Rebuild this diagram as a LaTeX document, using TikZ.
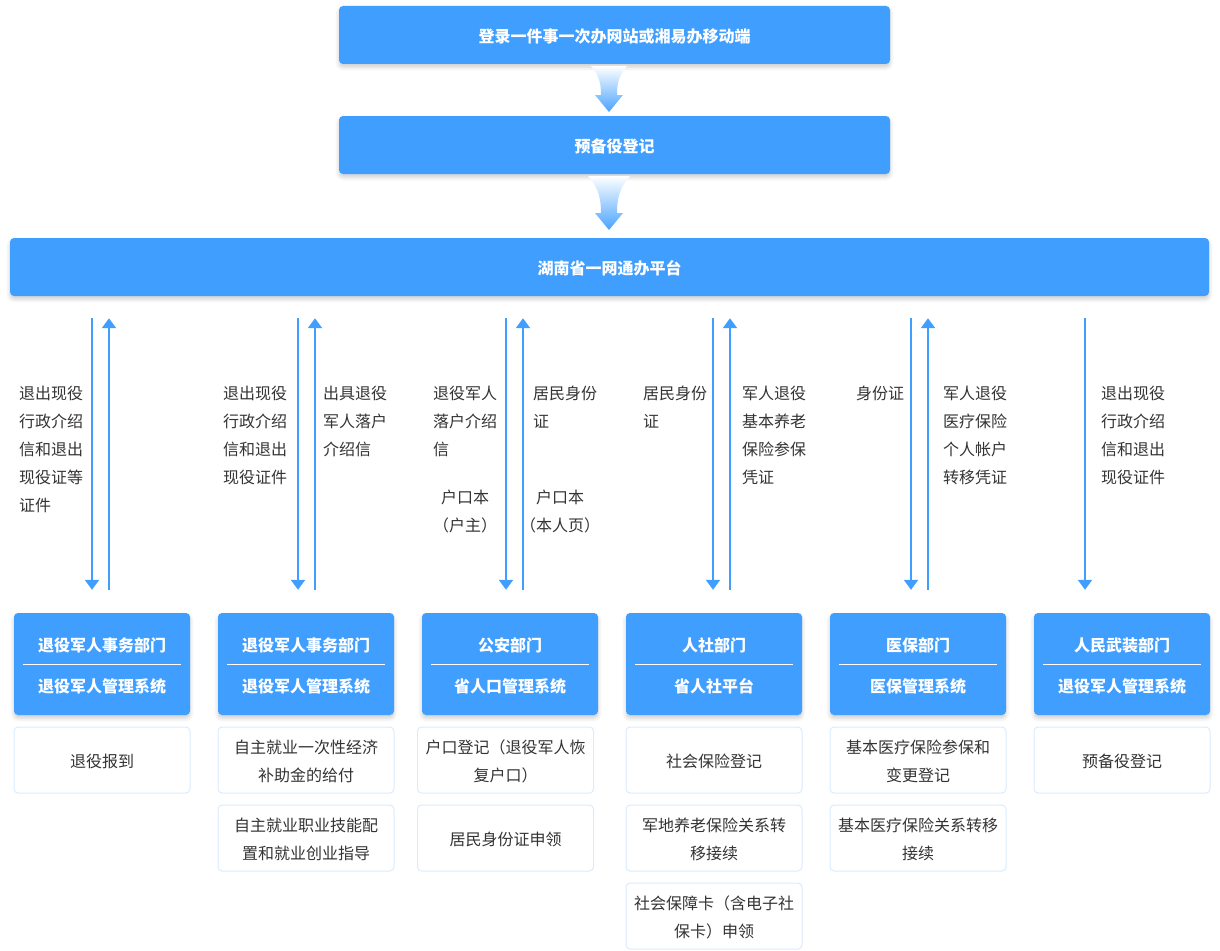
\documentclass[tikz,border=0pt]{standalone}
\usepackage{fontspec}
\setmainfont{Noto Sans CJK SC}
\usetikzlibrary{arrows.meta,shadows.blur}
\definecolor{mainblue}{HTML}{409EFF}
\definecolor{lineblue}{HTML}{D9ECFF}
\definecolor{txtgray}{HTML}{333333}
\newcommand{\up}[1]{\rule{0pt}{#1}}

\begin{document}
\begin{tikzpicture}[x=1pt,y=-1pt,
			every node/.style={
				font=\fontsize{16}{28}\selectfont,
				text=txtgray,
				inner sep=0pt,
			},
			bar/.style={
				rectangle,
				rounded corners=4pt,
				fill=mainblue,
				text=white,
				font=\fontsize{16}{41}\selectfont\bfseries,
				align=center,
				blur shadow={shadow xshift=0pt,shadow yshift=-3pt,shadow blur radius=4pt,shadow opacity=20},
			},
			dept/.style={
				bar,
				minimum width=176pt,
				minimum height=102pt,
			},
			task/.style={
				rectangle,
				rounded corners=4pt,
				draw=lineblue,
				line width=1pt,
				fill=white,
				minimum width=176pt,
				minimum height=66pt,
				align=center,
			},
			lbl/.style={
				anchor=north west,
				align=left,
			},
			flow/.style={
				draw=mainblue,
				line width=2pt,
				shorten <=22pt,
				shorten >=23pt,
			},
			>={Triangle[width=14pt,length=10pt]},
		]
		\useasboundingbox (0,0) rectangle (1220,950);

		% top of the flow
		\node[bar,minimum width=551pt,minimum height=58pt] (login) at (614.5,35) {\up{16pt}登录一件事一次办网站或湘易办移动端};
		\node[bar,minimum width=551pt,minimum height=58pt] (reserve) at (614.5,145) {\up{16pt}预备役登记};
		\node[bar,minimum width=1199pt,minimum height=58pt] (platform) at (609.5,267) {\up{16pt}湖南省一网通办平台};

		\shade[top color=white,bottom color=mainblue!95] (591,66) .. controls (600,76) and (601,86) .. (601,95) -- (595,95) -- (609,112) -- (623,95) -- (617,95) .. controls (617,86) and (618,76) .. (627,66) -- cycle;
		\shade[top color=white,bottom color=mainblue!95] (588,176) .. controls (599,188) and (601,200) .. (601,213) -- (595,213) -- (609,230) -- (623,213) -- (617,213) .. controls (617,200) and (619,188) .. (630,176) -- cycle;

		% departments
		\node[dept] (veteran1) at (102,664)  {\up{18pt}退役军人事务部门\\退役军人管理系统};
		\node[dept] (veteran2) at (306,664)  {\up{18pt}退役军人事务部门\\退役军人管理系统};
		\node[dept] (police)   at (510,664)  {\up{18pt}公安部门\\省人口管理系统};
		\node[dept] (social)   at (714,664)  {\up{18pt}人社部门\\省人社平台};
		\node[dept] (medical)  at (918,664)  {\up{18pt}医保部门\\医保管理系统};
		\node[dept] (armed)    at (1122,664) {\up{18pt}人民武装部门\\退役军人管理系统};
		\draw[white,line width=1pt] ([xshift=9pt]veteran1.west) -- ([xshift=-9pt]veteran1.east);
		\draw[white,line width=1pt] ([xshift=9pt]veteran2.west) -- ([xshift=-9pt]veteran2.east);
		\draw[white,line width=1pt] ([xshift=9pt]police.west) -- ([xshift=-9pt]police.east);
		\draw[white,line width=1pt] ([xshift=9pt]social.west) -- ([xshift=-9pt]social.east);
		\draw[white,line width=1pt] ([xshift=9pt]medical.west) -- ([xshift=-9pt]medical.east);
		\draw[white,line width=1pt] ([xshift=9pt]armed.west) -- ([xshift=-9pt]armed.east);

		% services
		\node[task] (report)    at (102,760)   {\up{16pt}退役报到};
		\node[task] (subsidy)   at (306,760)   {\up{16pt}自主就业一次性经济\\补助金的给付};
		\node[task] (guide)     at (306,838)   {\up{16pt}自主就业职业技能配\\置和就业创业指导};
		\node[task] (hukou)     at (505.5,760) {\up{16pt}户口登记（退役军人恢\\复户口）};
		\node[task] (idcard)    at (505.5,838) {\up{16pt}居民身份证申领};
		\node[task] (insreg)    at (714,760)   {\up{16pt}社会保险登记};
		\node[task] (pension)   at (714,838)   {\up{16pt}军地养老保险关系转\\移接续};
		\node[task] (sscard)    at (714,916)   {\up{16pt}社会保障卡（含电子社\\保卡）申领};
		\node[task] (medreg)    at (918,760)   {\up{16pt}基本医疗保险参保和\\变更登记};
		\node[task] (medmove)   at (918,838)   {\up{16pt}基本医疗保险关系转移\\接续};
		\node[task] (reservist) at (1122,760)  {\up{16pt}预备役登记};

		% exchanges with the platform
		\draw[flow,->] (platform.south -| 92,0)   -- (veteran1.north -| 92,0);
		\draw[flow,<-] (platform.south -| 109,0)  -- (veteran1.north -| 109,0);
		\draw[flow,->] (platform.south -| 298,0)  -- (veteran2.north -| 298,0);
		\draw[flow,<-] (platform.south -| 315,0)  -- (veteran2.north -| 315,0);
		\draw[flow,->] (platform.south -| 506,0)  -- (police.north -| 506,0);
		\draw[flow,<-] (platform.south -| 523,0)  -- (police.north -| 523,0);
		\draw[flow,->] (platform.south -| 713,0)  -- (social.north -| 713,0);
		\draw[flow,<-] (platform.south -| 730,0)  -- (social.north -| 730,0);
		\draw[flow,->] (platform.south -| 911,0)  -- (medical.north -| 911,0);
		\draw[flow,<-] (platform.south -| 928,0)  -- (medical.north -| 928,0);
		\draw[flow,->] (platform.south -| 1085,0) -- (armed.north -| 1085,0);

		\node[lbl] (doc1)   at (19,386)   {退出现役\\行政介绍\\信和退出\\现役证等\\证件};
		\node[lbl] (doc2)   at (223,386)  {退出现役\\行政介绍\\信和退出\\现役证件};
		\node[lbl] (letter) at (323,386)  {出具退役\\军人落户\\介绍信};
		\node[lbl] (doc3)   at (433,386)  {退役军人\\落户介绍\\信};
		\node[lbl] (id1)    at (533,386)  {居民身份\\证};
		\node[align=center] (book1) at (465,512) {户口本\\（户主）};
		\node[align=center] (book2) at (560,512) {户口本\\（本人页）};
		\node[lbl] (id2)    at (643,386)  {居民身份\\证};
		\node[lbl] (cert1)  at (742,386)  {军人退役\\基本养老\\保险参保\\凭证};
		\node[lbl] (id3)    at (856,386)  {身份证};
		\node[lbl] (cert2)  at (943,386)  {军人退役\\医疗保险\\个人帐户\\转移凭证};
		\node[lbl] (doc4)   at (1101,386) {退出现役\\行政介绍\\信和退出\\现役证件};
	\end{tikzpicture}
\end{document}
